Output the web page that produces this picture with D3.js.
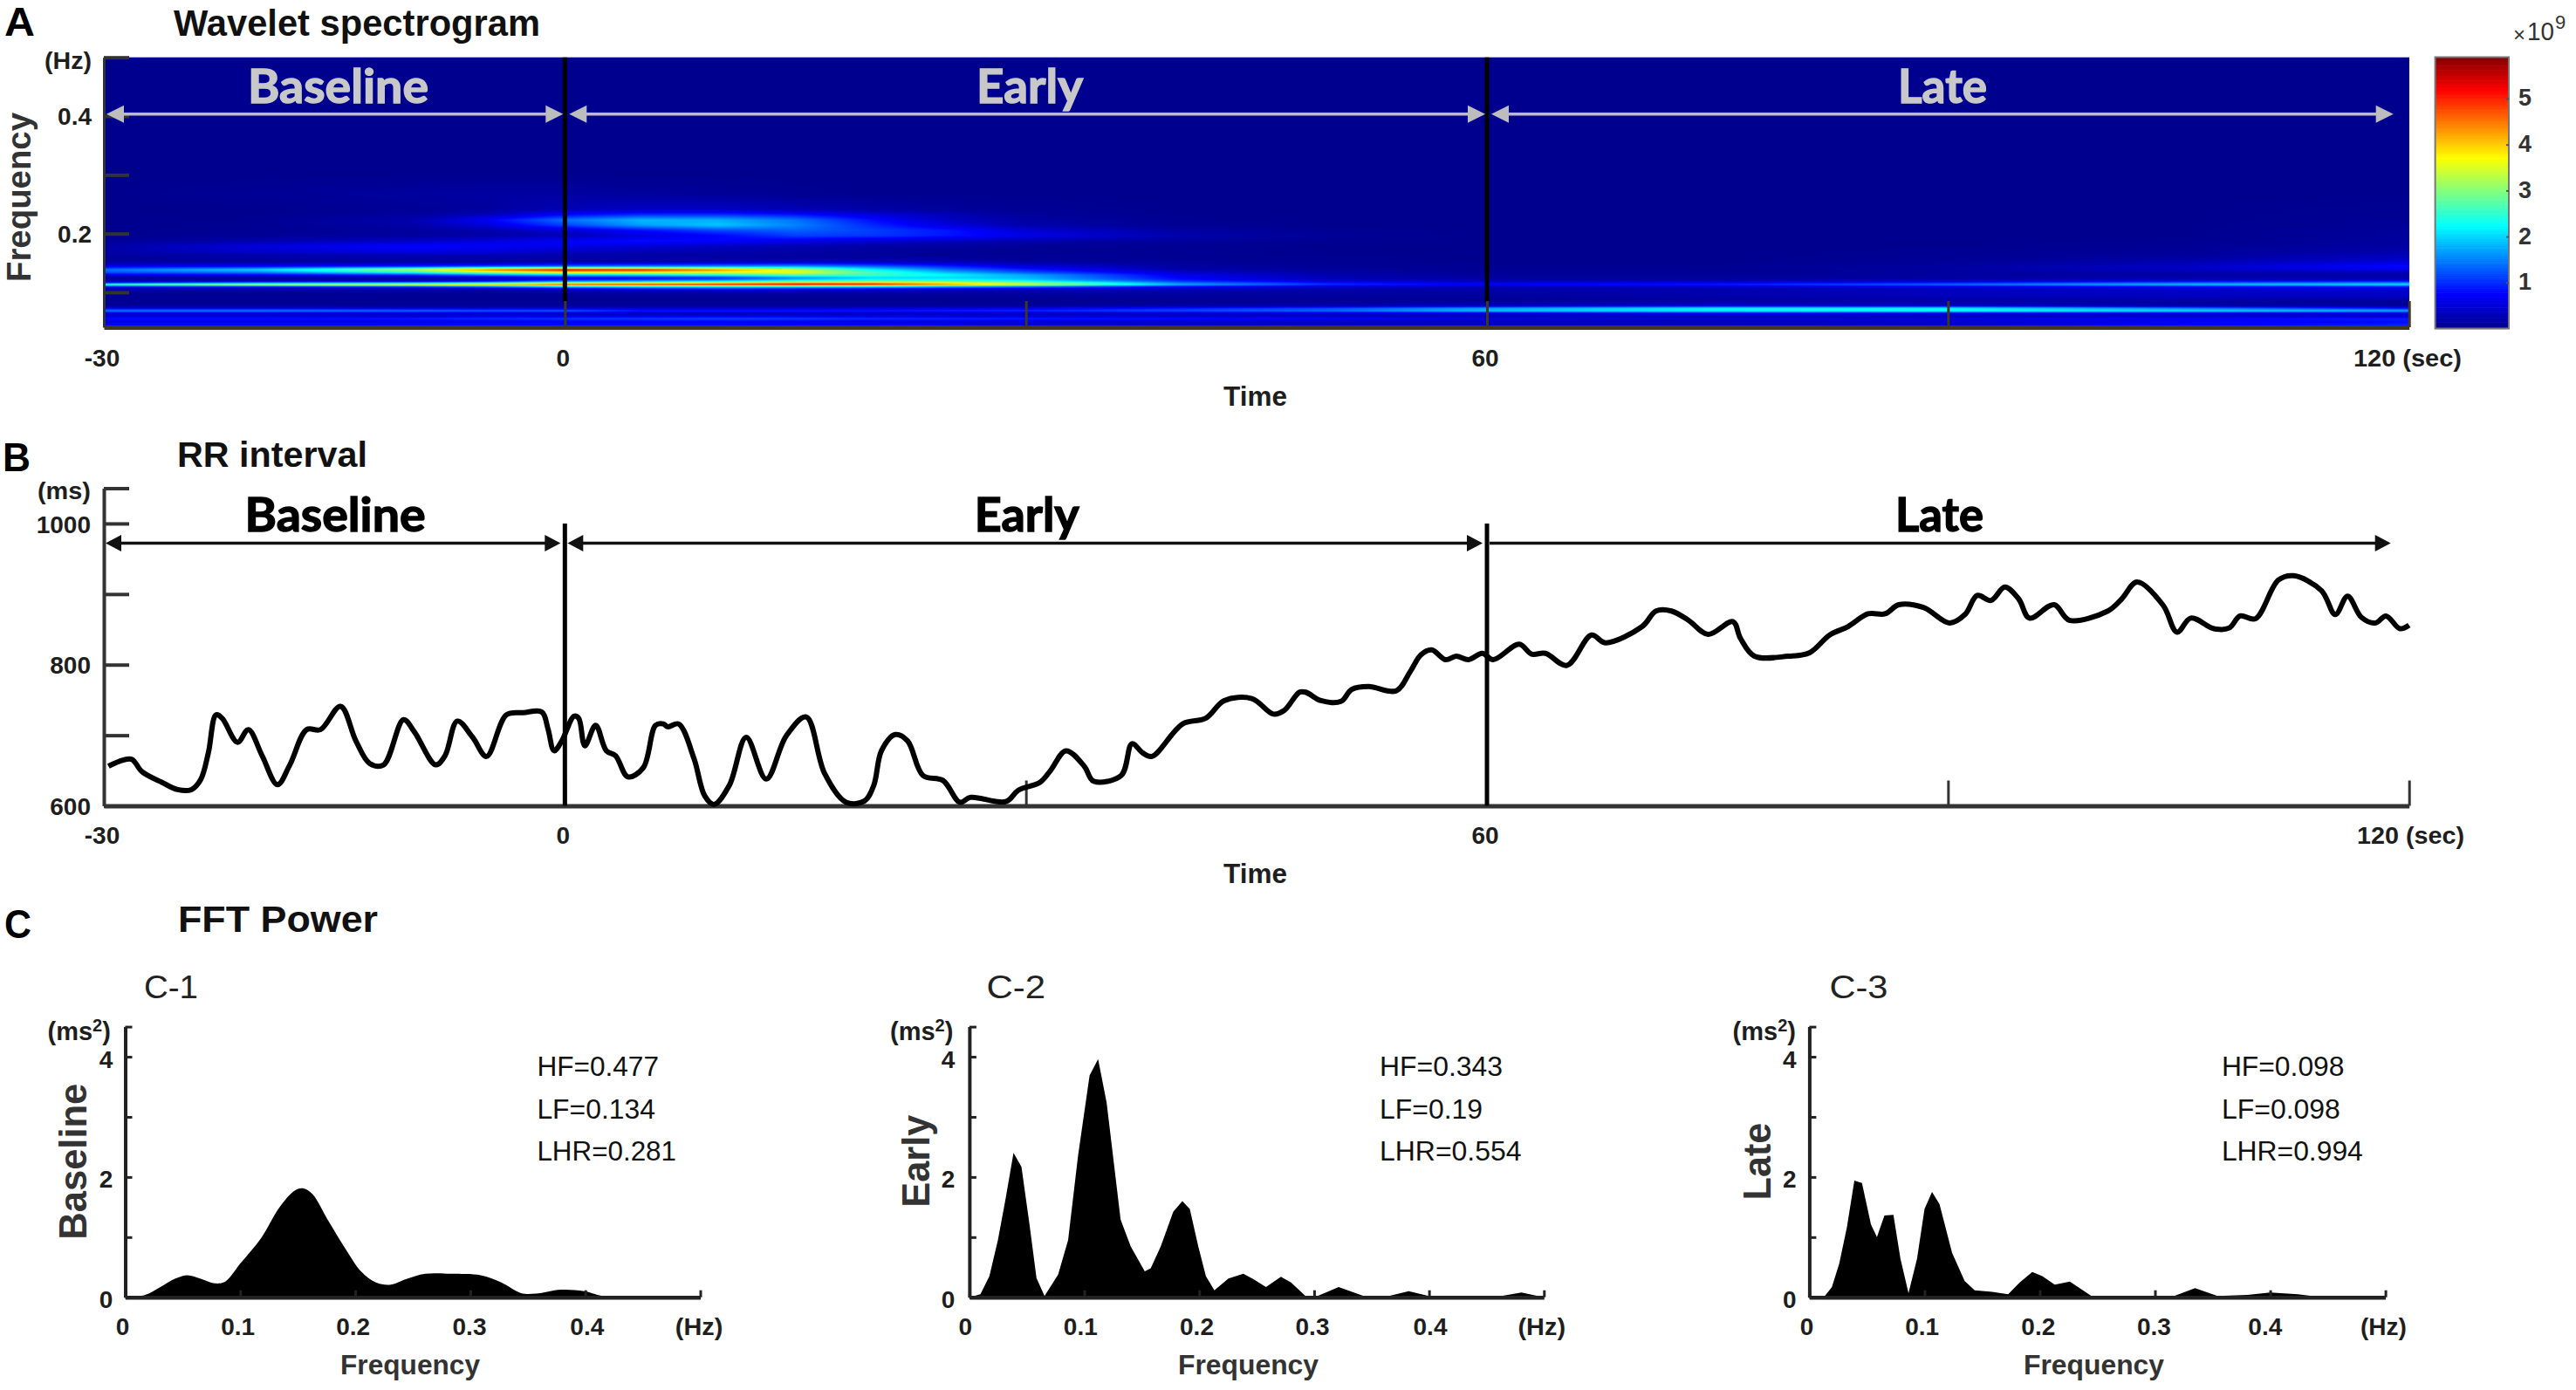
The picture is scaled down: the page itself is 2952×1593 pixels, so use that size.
<!DOCTYPE html>
<html>
<head>
<meta charset="utf-8">
<script src="https://cdn.jsdelivr.net/npm/d3@7/dist/d3.min.js"></script>
<style>
html,body{margin:0;padding:0;background:#fff}
svg{display:block}
text{font-family:"Liberation Sans",Arial,sans-serif}
</style>
</head>
<body>
<div id="chart"></div>
<script>
// ---------- data ----------
const phaseNames = ["Baseline", "Early", "Late"];
const phaseStart = [-30, 0, 60];
const phaseEnd = [0, 60, 120];
const timeTicks = [-30, 0, 30, 60, 90, 120];
const timeLabels = [-30, 0, 60];

const spectroTimes = [-30,-20,-10,-5,0,5,10,15,20,25,30,40,50,60,75,90,105,120];
const spectroFreqs = [.5,.3,.268,.2412,.2322,.2233,.2144,.2055,.1966,.1877,.1788,.1698,.1609,.152,.1446,.1386,.1342,.1297,.1253,.1223,.1193,.1163,.1134,.1104,.1074,.103,.0955,.0866,.0777,.0733,.0688,.0643,.0599,.0554,.0495,.042];
const spectroPower = [
[0,0,0,0,0,0,0,0,0,0,0,0,0,0,0,0,0,0],
[0,0,0,0,0,0,0,0,0,0,0,0,0,0,0,0,0,0],
[0,.03,.1,.12,.12,.08,.05,.02,0,0,0,0,0,0,0,0,0,0],
[0,0,.05,.1,.25,.35,.35,.25,.15,.08,.03,0,0,0,0,0,0,.02],
[0,0,.08,.3,.75,1,1,.85,.5,.25,.08,0,0,0,0,0,0,.03],
[0,.02,.2,.7,1.4,1.8,1.75,1.4,.8,.35,.12,.02,0,0,0,0,0,.03],
[0,.02,.15,.5,1.1,1.65,1.9,1.5,.95,.5,.2,.03,0,0,0,0,0,.05],
[0,.03,.1,.2,.45,.8,1.15,1.3,1.1,.85,.45,.12,.02,0,0,0,0,.08],
[0,.05,.1,.15,.25,.5,.75,1.1,1.05,.85,.6,.2,.05,0,0,0,0,.08],
[.05,.2,.35,.5,.7,.8,.75,.6,.45,.35,.2,.08,.02,0,0,0,.02,.1],
[.15,.5,.75,.7,.6,.5,.35,.25,.15,.1,.05,.03,0,0,0,0,.03,.12],
[.15,.4,.55,.5,.35,.25,.2,.15,.1,.06,.03,.02,0,0,0,.02,.06,.2],
[.08,.15,.2,.2,.15,.15,.12,.1,.08,.05,.03,.02,.01,0,0,.03,.1,.3],
[.1,.1,.1,.1,.15,.2,.25,.3,.3,.25,.12,.05,.02,0,0,.05,.2,.5],
[.6,.7,.9,1.1,1.3,1.4,1.5,1.6,1.3,.9,.5,.12,.05,.02,.02,.1,.35,.8],
[1.4,2,3.3,4.5,5.2,5.1,4.4,3.4,2.2,1.4,.9,.2,.08,.03,.03,.12,.3,.6],
[1.2,1.5,2.4,3.2,3.8,3.7,3.6,3.6,2.6,1.8,1.2,.4,.12,.05,.03,.1,.2,.25],
[.6,.7,1,1.5,1.9,2.1,2.4,2.8,2.6,2.2,1.7,.6,.2,.08,.05,.1,.15,.2],
[.1,.12,.2,.4,.7,.8,1,1.6,2,2,1.8,.7,.25,.1,.08,.12,.2,.2],
[.1,.1,.1,.3,.7,.9,1.2,1.8,2.2,2.2,1.9,.8,.3,.15,.1,.15,.25,.3],
[.3,.3,.4,.7,1.4,1.7,2,2.5,2.8,2.7,2.3,1,.45,.25,.25,.4,.6,.8],
[1,1.6,1.8,2.2,3,3.3,3.7,4.2,4.2,3.7,3.1,1.4,.8,.55,.6,.9,1.3,1.5],
[2.6,3.3,3.7,4.1,4.8,5,5.2,5.3,5.1,4.3,3.5,1.8,1,.7,.9,1.4,1.9,2.1],
[1.2,1.3,1.5,1.8,2.4,2.6,2.6,2.7,2.5,2,1.7,.9,.5,.35,.5,.7,.9,1.1],
[.3,.3,.4,.5,.9,1.2,1.3,1.2,1.05,.9,.7,.45,.3,.2,.25,.4,.5,.6],
[.1,.1,.1,.1,.2,.3,.3,.3,.3,.25,.2,.2,.15,.15,.2,.3,.35,.4],
[.03,.03,.03,.03,.05,.05,.05,.05,.05,.05,.08,.1,.1,.1,.2,.3,.35,.4],
[.03,.03,.03,.03,.03,.03,.03,.03,.03,.03,.03,.05,.05,.05,.1,.15,.15,.1],
[.05,.05,.05,.05,.05,.05,.05,.05,.05,.05,.05,.1,.15,.25,.4,.3,.1,.05],
[.5,.5,.4,.4,.4,.35,.35,.35,.4,.45,.5,.8,1.1,1.6,2.1,2.1,1.4,.7],
[1.5,1.5,1.4,1.3,1.3,.9,.9,.9,.9,.95,1,1.2,1.4,1.9,2.2,2.3,2.1,1.8],
[.5,.5,.4,.4,.35,.3,.3,.3,.3,.3,.3,.35,.4,.5,.7,.6,.5,.5],
[.4,.4,.4,.5,.5,.5,.5,.5,.5,.45,.4,.35,.3,.3,.3,.3,.35,.4],
[.8,.8,.9,1,1.05,1.1,1.15,1.1,1,.95,.9,.8,.7,.5,.4,.5,.7,.9],
[.5,.5,.5,.55,.6,.6,.6,.55,.5,.5,.45,.4,.35,.3,.3,.4,.6,.8],
[.9,.9,.9,.9,.9,.9,.9,.8,.7,.6,.5,.4,.3,.3,.3,.4,.7,1]
];
const spectroFreqTicks = [.1,.2,.3,.4,.5];
const spectroFreqLabels = [.2,.4];
const colorbarTicks = [1,2,3,4,5];

const rrTime = [-29.7,-29,-28.2,-27.5,-26.2,-25.2,-24.3,-23.7,-23.2,-22.7,-22.3,-21.3,-20.6,-19.7,-18.7,-17.9,-16.8,-15.9,-14.6,-13.6,-12.7,-11.8,-10.5,-9.8,-8.4,-7.8,-7,-6,-5.1,-3.8,-2.7,-1.5,-1.1,-.7,-.2,.6,.9,1.3,2,2.7,3.3,4.1,5.1,5.9,6.4,6.7,7.4,8.4,9.1,9.7,10.7,11.8,13.1,14.4,15.7,16.9,18.3,19.5,20.1,20.6,21.5,22.3,23.3,24.6,25.7,26.4,28.7,29.5,30.9,31.6,32.6,33.8,34.4,36.2,36.9,37.6,38.2,40.2,41.7,42.9,44.7,46.1,46.8,47.8,48.2,49.2,50.5,51.2,52.3,54.1,55,55.7,56.4,57.3,58,58.8,59.7,60.4,62.1,62.9,63.8,65.2,66.8,67.7,70.1,71,72,73.1,74.4,76,76.5,77.4,79.6,81,82.3,83.5,84.8,85.9,86.8,88.4,90.1,91.1,91.9,92.8,93.7,94.6,95.3,96.9,97.9,100.4,101.3,102.3,104,104.9,105.8,107.3,108.3,109,110,111.5,112.5,114.3,115.2,116,116.9,117.8,118.5,119.4,120];
const rrValue = [656,663,666,648,633,623,623,637,675,729,724,690,708,671,630,658,708,708,741,692,660,658,722,705,658,671,720,697,670,729,732,733,709,678,692,727,724,685,714,678,671,641,654,714,716,712,716,667,614,602,629,697,638,699,726,646,605,607,629,678,701,692,643,636,605,612,606,622,633,650,678,656,635,643,688,675,670,716,724,749,752,730,735,761,761,749,748,765,769,763,790,814,821,807,812,807,816,807,829,815,816,799,842,831,854,876,876,863,843,861,837,812,812,817,842,854,872,872,885,881,859,871,898,891,910,893,866,885,863,876,893,917,884,846,866,851,852,869,865,920,926,905,871,897,867,859,869,851,856];
const rrTicks = [600,700,800,900,1000,1050];
const rrLabels = [600,800,1000];

const fftFreqTicks = [0,.1,.2,.3,.4,.5];
const fftFreqLabels = ["0","0.1","0.2","0.3","0.4"];
const fftPowerTicks = [0,1,2,3,4,4.5];
const fftPowerLabels = [0,2,4];

const baselineFreq = [0,.0174,.0305,.0436,.054,.065,.078,.087,.1,.118,.135,.148,.155,.163,.176,.192,.205,.218,.231,.244,.261,.283,.309,.327,.344,.357,.379,.399,.418,.5];
const baselinePower = [0,.04,.17,.31,.365,.31,.23,.26,.56,.98,1.52,1.78,1.81,1.71,1.29,.79,.43,.245,.21,.3,.39,.39,.365,.245,.07,.06,.125,.1,.01,0];
const earlyFreq = [0,.0096,.0174,.0248,.0314,.0384,.0453,.0523,.0584,.0654,.0772,.0859,.0946,.1046,.112,.1194,.1316,.1404,.1526,.1578,.1665,.1774,.1853,.1918,.1992,.2058,.2132,.2254,.2384,.2472,.2581,.2711,.2799,.293,.3016,.3213,.3431,.3627,.3823,.3997,.463,.4804,.5];
const earlyPower = [0,.05,.35,.95,1.63,2.4,2.17,1.21,.32,.02,.375,.95,2.36,3.69,3.96,3.24,1.29,.845,.43,.48,.845,1.42,1.6,1.47,.845,.35,.115,.31,.39,.3,.17,.34,.245,.01,.01,.17,.02,.01,.1,.02,.02,.08,0];
const lateFreq = [0,.013,.0196,.026,.0326,.0391,.0457,.0535,.0587,.0652,.073,.0791,.0861,.0935,.1,.1065,.113,.1239,.1348,.1435,.1587,.1726,.1826,.1935,.2022,.213,.2261,.2457,.3152,.3348,.3543,.3804,.4,.4239,.4457,.5];
const latePower = [0,.01,.17,.56,1.16,1.94,1.9,1.21,1,1.36,1.37,.64,.07,.64,1.47,1.75,1.55,.74,.27,.115,.09,.05,.245,.42,.35,.21,.26,.01,.01,.15,.02,.04,.08,.05,0,0];

const fftCodes = ["C-1","C-2","C-3"];
const fftNames = ["Baseline","Early","Late"];
const fftStatsHF = ["0.477","0.343","0.098"];
const fftStatsLF = ["0.134","0.19","0.098"];
const fftStatsLHR = ["0.281","0.554","0.994"];

// ---------- page ----------
const svg = d3.select("#chart").append("svg").attr("width",2952).attr("height",1593).attr("viewBox","0 0 2952 1593");
svg.append("rect").attr("width",2952).attr("height",1593).attr("fill","#fff");
const DARK = "#1e1e1e";

function label(o){
  const t = svg.append("text")
    .attr("font-size",o.size||28)
    .attr("font-weight",o.weight||"bold")
    .attr("fill",o.fill||DARK)
    .attr("text-anchor",o.anchor||"start")
    .text(o.text);
  if(o.font) t.style("font-family",o.font);
  if(o.heavy) t.attr("stroke",o.fill).attr("stroke-width",o.heavy);
  if(o.rotate) t.attr("transform",`translate(${o.x},${o.y}) rotate(-90)`);
  else t.attr("x",o.x).attr("y",o.y);
  if(o.len) t.attr("textLength",o.len).attr("lengthAdjust","spacingAndGlyphs");
  return t;
}
function styleAxis(g,stroke,domainW,tickW){
  g.select(".domain").attr("stroke",stroke).attr("stroke-width",domainW);
  g.selectAll(".tick line").attr("stroke",stroke).attr("stroke-width",tickW);
  g.selectAll(".tick text").remove();
}
function arrow(x1,x2,y,color,both,lw,hl,hh,g){
  g.append("line").attr("x1",x1+(both?hl/2:0)).attr("x2",x2-hl/2).attr("y1",y).attr("y2",y)
    .attr("stroke",color).attr("stroke-width",lw);
  g.append("path").attr("fill",color).attr("d",`M${x2},${y}L${x2-hl},${y-hh/2}L${x2-hl},${y+hh/2}Z`);
  if(both) g.append("path").attr("fill",color).attr("d",`M${x1},${y}L${x1+hl},${y-hh/2}L${x1+hl},${y+hh/2}Z`);
}

// panel headers
label({x:5,y:41,text:"A",size:46,fill:"#000",len:35});
label({x:199,y:41,text:"Wavelet spectrogram",size:42,fill:"#111",len:420});
label({x:3,y:540,text:"B",size:46,fill:"#000",len:32});
label({x:203,y:535,text:"RR interval",size:40,fill:"#111",len:218});
label({x:5,y:1075,text:"C",size:46,fill:"#000",len:31});
label({x:204,y:1068,text:"FFT Power",size:42,fill:"#111",len:229});

// ---------- A: spectrogram ----------
const x = d3.scaleLinear().domain([-30,120]).range([119,2760.7]);
const yA = d3.scaleLinear().domain([.5,.0406]).range([65.7,375]);
const powerMax = 5.9;
const jet = d3.scaleLinear()
  .domain([0,.125,.375,.625,.875,1].map(p=>p*powerMax))
  .range(["#00008f","#0000ff","#00ffff","#ffff00","#ff0000","#800000"])
  .clamp(true);
const rowIndex = d3.scaleLinear().domain(spectroFreqs).range(d3.range(spectroFreqs.length)).clamp(true);
const colIndex = d3.scaleLinear().domain(spectroTimes).range(d3.range(spectroTimes.length)).clamp(true);
function powerAt(t,f){
  const c = colIndex(t), r = rowIndex(f);
  const c0 = Math.floor(c), r0 = Math.floor(r);
  const c1 = Math.min(c0+1,spectroTimes.length-1), r1 = Math.min(r0+1,spectroFreqs.length-1);
  const u = c-c0, v = r-r0;
  return (1-v)*((1-u)*spectroPower[r0][c0]+u*spectroPower[r0][c1]) + v*((1-u)*spectroPower[r1][c0]+u*spectroPower[r1][c1]);
}
const pw = Math.round(x(120)-x(-30)), ph = Math.round(yA(.0406)-yA(.5));
const cv = document.createElement("canvas"); cv.width = pw; cv.height = ph;
const ctx = cv.getContext("2d");
const img = ctx.createImageData(pw,ph);
for(let j=0;j<ph;j++){
  const f = yA.invert(yA(.5)+j+.5);
  for(let i=0;i<pw;i++){
    const t = x.invert(x(-30)+i+.5);
    const c = d3.rgb(jet(powerAt(t,f)));
    const k = 4*(j*pw+i);
    img.data[k]=c.r; img.data[k+1]=c.g; img.data[k+2]=c.b; img.data[k+3]=255;
  }
}
ctx.putImageData(img,0,0);
svg.append("image").attr("x",x(-30)).attr("y",yA(.5)).attr("width",pw).attr("height",ph)
  .attr("preserveAspectRatio","none").attr("href",cv.toDataURL());

// phase separators over the image
const gA = svg.append("g");
[0,60].forEach(t=>{
  gA.append("line").attr("x1",x(t)).attr("x2",x(t)).attr("y1",yA(.5)).attr("y2",346)
    .attr("stroke","#000").attr("stroke-width",5);
});
const axA = svg.append("g").attr("transform",`translate(0,${yA(.0406)})`)
  .call(d3.axisBottom(x).tickValues(timeTicks).tickSize(-30).tickSizeOuter(0).tickFormat(""));
styleAxis(axA,"#3f3722",5,3);
const ayA = svg.append("g").attr("transform",`translate(${x(-30)},0)`)
  .call(d3.axisLeft(yA).tickValues(spectroFreqTicks).tickSize(-29).tickSizeOuter(0).tickFormat(""));
styleAxis(ayA,"#333",3,4);

// phase arrows and names on the spectrogram
const lightGrey = "#bdbdbd";
const arrowsA = svg.append("g");
phaseNames.forEach((n,i)=>{
  const x1 = x(phaseStart[i])+(i?5:3), x2 = i==2 ? x(phaseEnd[i])-18 : x(phaseEnd[i])-2;
  arrow(x1,x2,130.7,lightGrey,true,3.5,20,20,arrowsA);
});
label({x:284,y:118,text:phaseNames[0],size:53,fill:"#c8c8c8",font:"Lato",len:207,heavy:1.4});
label({x:1119,y:118,text:phaseNames[1],size:53,fill:"#c8c8c8",font:"Lato",len:122,heavy:1.4});
label({x:2175,y:118,text:phaseNames[2],size:53,fill:"#c8c8c8",font:"Lato",len:102,heavy:1.4});

// spectrogram labels
label({x:51,y:79,text:"(Hz)",len:54});
spectroFreqLabels.forEach(f=>label({x:105,y:yA(f)+10,text:d3.format(".1f")(f),anchor:"end"}));
label({x:35,y:323,text:"Frequency",size:38,rotate:true,fill:"#333",len:194});
timeLabels.forEach(t=>label({x:x(t)-2,y:420,text:String(t),anchor:"middle"}));
label({x:2697,y:420,text:"120 (sec)",len:124});
label({x:1402,y:465,text:"Time",size:31,len:73});

// colour bar
const yBar = d3.scaleLinear().domain([0,powerMax]).range([376.5,65.5]);
const barX = 2790.6, barW = 84.4;
svg.append("g").selectAll("rect").data(d3.range(0,powerMax,powerMax/128)).join("rect")
  .attr("x",barX).attr("width",barW)
  .attr("y",d=>yBar(d+powerMax/128)).attr("height",d=>yBar(d)-yBar(d+powerMax/128)+.6)
  .attr("fill",d=>jet(d));
svg.append("rect").attr("x",barX).attr("y",yBar(powerMax)).attr("width",barW)
  .attr("height",yBar(0)-yBar(powerMax)).attr("fill","none").attr("stroke","#777").attr("stroke-width",2);
const axBar = svg.append("g").attr("transform",`translate(${barX+barW},0)`)
  .call(d3.axisRight(yBar).tickValues(colorbarTicks).tickSize(-3).tickSizeOuter(0).tickFormat(""));
styleAxis(axBar,"#555",0,2);
colorbarTicks.forEach(v=>label({x:2886,y:yBar(v)+8.5,text:String(v),size:27,fill:"#333"}));
label({x:2880,y:48,text:"×",size:24,weight:"normal",fill:"#333"});
label({x:2896,y:46,text:"10",size:29,weight:"normal",fill:"#333",len:31});
label({x:2928,y:33,text:"9",size:22,weight:"normal",fill:"#333"});

// ---------- B: RR interval ----------
const yB = d3.scaleLinear().domain([600,1050]).range([923.5,559.5]);
const axB = svg.append("g").attr("transform",`translate(0,${yB(600)})`)
  .call(d3.axisBottom(x).tickValues(timeTicks).tickSize(-29).tickSizeOuter(0).tickFormat(""));
styleAxis(axB,"#333",5,3);
const ayB = svg.append("g").attr("transform",`translate(${x(-30)},0)`)
  .call(d3.axisLeft(yB).tickValues(rrTicks).tickSize(-29).tickSizeOuter(0).tickFormat(""));
styleAxis(ayB,"#333",4,4);
[0,60].forEach(t=>{
  svg.append("line").attr("x1",x(t)).attr("x2",x(t)).attr("y1",yB(1000)).attr("y2",yB(600))
    .attr("stroke","#000").attr("stroke-width",5);
});
const rrLine = d3.line().x(d=>x(d[0])).y(d=>yB(d[1])).curve(d3.curveCatmullRom.alpha(.5));
svg.append("path").attr("d",rrLine(d3.zip(rrTime,rrValue))).attr("fill","none")
  .attr("stroke","#000").attr("stroke-width",6).attr("stroke-linejoin","round");
const arrowsB = svg.append("g");
phaseNames.forEach((n,i)=>{
  const x1 = x(phaseStart[i])+(i?3:2), x2 = i==2 ? x(phaseEnd[i])-21 : x(phaseEnd[i])-5;
  arrow(x1,x2,622.6,"#111",i<2,3.5,18,19,arrowsB);
});
label({x:280.6,y:609,text:phaseNames[0],size:53,fill:"#000",font:"Lato",len:207,heavy:1.4});
label({x:1116.7,y:609,text:phaseNames[1],size:53,fill:"#000",font:"Lato",len:120,heavy:1.4});
label({x:2172,y:609,text:phaseNames[2],size:53,fill:"#000",font:"Lato",len:101,heavy:1.4});
label({x:43,y:572,text:"(ms)",len:61});
rrLabels.forEach(v=>label({x:104,y:v==600?934:(v==800?772:611),text:String(v),anchor:"end"}));
timeLabels.forEach(t=>label({x:x(t)-2,y:967,text:String(t),anchor:"middle"}));
label({x:2701,y:967,text:"120 (sec)",len:123});
label({x:1402,y:1012,text:"Time",size:31,len:73});

// ---------- C: FFT power ----------
const yC = d3.scaleLinear().domain([0,4.5]).range([1486.7,1176.6]);
const fftPanels = [
  {freq:baselineFreq,power:baselinePower,curve:d3.curveCatmullRom,x0:143.5,x1:802.5,code:[165,62],unit:54.5,num:113.7,name:[98.7,1420.7,179],
   labs:[140.6,272.7,404.7,538,672.8],hz:[773.8,54.6],fr:[390,160],sx:615.4,sl:[139.6,135.6,159.6]},
  {freq:earlyFreq,power:earlyPower,curve:d3.curveLinear,x0:1110.9,x1:1769.3,code:[1130.4,67.6],unit:1020,num:1078.7,name:[1065,1383.7,106],
   labs:[1106.3,1238.3,1371.5,1504,1639],hz:[1739.5,54.5],fr:[1350,161],sx:1581,sl:[141,118,162.5]},
  {freq:lateFreq,power:latePower,curve:d3.curveLinear,x0:2073.4,x1:2733.6,code:[2096.4,67],unit:1985.6,num:2043,name:[2028.6,1375.4,88.7],
   labs:[2070.6,2202.6,2335.8,2468.4,2595.8],hz:[2704.9,53],fr:[2319,161],sx:2545.9,sl:[140.6,136,161.9]}
];
fftPanels.forEach((p,i)=>{
  const xC = d3.scaleLinear().domain([0,.5]).range([p.x0,p.x1]);
  const area = d3.area().x(d=>xC(d[0])).y0(yC(0)).y1(d=>Math.min(yC(0),yC(d[1]))).curve(p.curve);
  svg.append("path").attr("d",area(d3.zip(p.freq,p.power))).attr("fill","#000");
  const ax = svg.append("g").attr("transform",`translate(0,${yC(0)})`)
    .call(d3.axisBottom(xC).tickValues(fftFreqTicks).tickSize(-8).tickSizeOuter(0).tickFormat(""));
  styleAxis(ax,"#222",4.5,3);
  const ay = svg.append("g").attr("transform",`translate(${p.x0},0)`)
    .call(d3.axisLeft(yC).tickValues(fftPowerTicks).tickSize(-8).tickSizeOuter(0).tickFormat(""));
  styleAxis(ay,"#222",4,3);

  label({x:p.code[0],y:1144,text:fftCodes[i],size:36,weight:"normal",fill:"#222",len:p.code[1]});
  const u = label({x:p.unit,y:1192,text:"",size:29});
  u.append("tspan").text("(ms");
  u.append("tspan").attr("dy",-10).attr("font-size",20).text("2");
  u.append("tspan").attr("dy",10).text(")");
  fftPowerLabels.forEach(v=>label({x:p.num,y:yC(v)+12.5,text:String(v)}));
  label({x:p.name[0],y:p.name[1],text:fftNames[i],size:44,rotate:true,fill:"#333",len:p.name[2]});
  fftFreqLabels.forEach((s,k)=>label({x:p.labs[k],y:1530,text:s,anchor:"middle"}));
  label({x:p.hz[0],y:1530,text:"(Hz)",len:p.hz[1]});
  label({x:p.fr[0],y:1575,text:"Frequency",size:32,fill:"#333",len:p.fr[1]});
  label({x:p.sx,y:1233,text:"HF="+fftStatsHF[i],size:31,weight:"normal",fill:"#111",len:p.sl[0]});
  label({x:p.sx,y:1282,text:"LF="+fftStatsLF[i],size:31,weight:"normal",fill:"#111",len:p.sl[1]});
  label({x:p.sx,y:1330,text:"LHR="+fftStatsLHR[i],size:31,weight:"normal",fill:"#111",len:p.sl[2]});
});
</script>
</body>
</html>
